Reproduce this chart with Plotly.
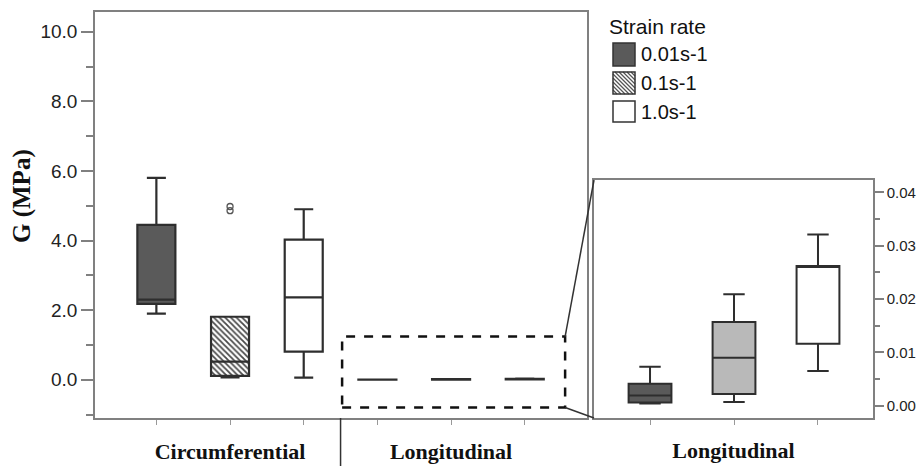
import plotly.graph_objects as go

W, H = 919, 466

# ---------------- data (G in MPa) ----------------
categories = ["Circumferential", "Longitudinal"]
series_names = ["0.01s-1", "0.1s-1", "1.0s-1"]

# values per series for [Circumferential, Longitudinal]
lower_001 = [1.90, 0.0004]
q1_001 = [2.18, 0.0006]
median_001 = [2.30, 0.0019]
q3_001 = [4.45, 0.0041]
upper_001 = [5.80, 0.0073]

lower_01 = [0.07, 0.0007]
q1_01 = [0.11, 0.0022]
median_01 = [0.52, 0.0090]
q3_01 = [1.81, 0.0157]
upper_01 = [1.81, 0.0209]
outliers_01_circ = [4.86, 4.98]

lower_10 = [0.06, 0.0065]
q1_10 = [0.81, 0.0116]
median_10 = [2.37, 0.0262]
q3_10 = [4.03, 0.0262]
upper_10 = [4.90, 0.0321]

main_yticks = [0, 2, 4, 6, 8, 10]
inset_yticks = [0.00, 0.01, 0.02, 0.03, 0.04]

stats = [
    dict(lo=lower_001, q1=q1_001, med=median_001, q3=q3_001, hi=upper_001),
    dict(lo=lower_01, q1=q1_01, med=median_01, q3=q3_01, hi=upper_01),
    dict(lo=lower_10, q1=q1_10, med=median_10, q3=q3_10, hi=upper_10),
]

# ---------------- styles ----------------
LINE = "#2e2e2e"
AX = "#808080"
main_fills = ["#5a5a5a", "rgba(0,0,0,0)", "#ffffff"]
inset_fills = ["#5a5a5a", "#b9b9b9", "#ffffff"]
BOXGAP, BOXGROUPGAP = 0.0, 0.484
BOXW = (1 - BOXGAP) * (1 - BOXGROUPGAP) / 3
SANS = "Liberation Sans"
SERIF = "Liberation Serif"

# domains (pixel -> paper, margins are zero)
mx0, mx1 = 95 / W, 587 / W
my0, my1 = 1 - 418 / H, 1 - 12 / H
ix0, ix1 = 594 / W, 873 / W
iy0, iy1 = 1 - 418 / H, 1 - 180 / H
mxr = [-0.611, 1.615]
myr = [-1.1, 10.57]

fig = go.Figure()

# hatch fill under the 0.1 s-1 circumferential box
fig.add_trace(go.Bar(
    x=[categories[0]], y=[q3_01[0] - q1_01[0]], base=[q1_01[0]], width=BOXW,
    marker=dict(color="white", line=dict(width=0),
                pattern=dict(shape="\\", fgcolor="#4a4a4a", bgcolor="white",
                             size=4, solidity=0.45, fillmode="replace")),
    showlegend=False, hoverinfo="skip", xaxis="x", yaxis="y"))

for i, (name, s) in enumerate(zip(series_names, stats)):
    fig.add_trace(go.Box(
        x=categories, q1=s["q1"], median=s["med"], q3=s["q3"],
        lowerfence=s["lo"], upperfence=s["hi"], name=name,
        fillcolor=main_fills[i], line=dict(color=LINE, width=2.2),
        whiskerwidth=0.5, boxpoints=False, offsetgroup=str(i),
        alignmentgroup="main", showlegend=False, xaxis="x", yaxis="y"))

fig.add_trace(go.Scatter(
    x=[categories[0]] * len(outliers_01_circ), y=outliers_01_circ, mode="markers",
    marker=dict(symbol="circle-open", size=6, color="#555555", line=dict(width=1.3)),
    showlegend=False, xaxis="x", yaxis="y"))

# inset: longitudinal only
for i, (name, s) in enumerate(zip(series_names, stats)):
    fig.add_trace(go.Box(
        x=[name], q1=[s["q1"][1]], median=[s["med"][1]], q3=[s["q3"][1]],
        lowerfence=[s["lo"][1]], upperfence=[s["hi"][1]], name=name,
        fillcolor=inset_fills[i], line=dict(color=LINE, width=2),
        whiskerwidth=0.5, boxpoints=False, width=0.51,
        showlegend=False, xaxis="x2", yaxis="y2"))

# ---------------- shapes ----------------
def to_px(xv, yv):
    px = mx0 + (xv - mxr[0]) / (mxr[1] - mxr[0]) * (mx1 - mx0)
    py = my0 + (yv - myr[0]) / (myr[1] - myr[0]) * (my1 - my0)
    return px, py

rect = dict(x0=0.507, x1=1.516, y0=-0.80, y1=1.24)
shapes = [
    dict(type="rect", xref="x", yref="y", x0=rect["x0"], x1=rect["x1"],
         y0=rect["y0"], y1=rect["y1"], line=dict(color="#111111", width=2.5, dash="dash")),
]
tr = to_px(rect["x1"], rect["y1"])
br = to_px(rect["x1"], rect["y0"])
shapes.append(dict(type="line", xref="paper", yref="paper", x0=tr[0], y0=tr[1],
                   x1=ix0, y1=iy1, line=dict(color="#333333", width=1.5)))
shapes.append(dict(type="line", xref="paper", yref="paper", x0=br[0], y0=br[1],
                   x1=ix0, y1=iy0, line=dict(color="#333333", width=1.5)))
# separator between categories
shapes.append(dict(type="line", xref="x", yref="paper", x0=0.5, x1=0.5, y0=0, y1=my0,
                   line=dict(color="#333333", width=1.5)))

# legend swatches (pixel boxes)
sw = [(613, 43, 635, 66), (613, 72, 635, 94), (613, 101, 635, 122)]
sw_fill = ["#5a5a5a", "white", "white"]
for k, (a, b, c, d) in enumerate(sw):
    if k == 1:
        w, h = c - a, d - b
        cc = -h
        while cc < w:
            u0, u1 = max(0, cc), min(w, h + cc)
            if u1 > u0:
                xa, ya = a + u0, b + u0 - cc
                xb, yb = a + u1, b + u1 - cc
                shapes.append(dict(type="line", xref="paper", yref="paper",
                                   x0=xa / W, y0=1 - ya / H, x1=xb / W, y1=1 - yb / H,
                                   line=dict(color="#555555", width=1.3)))
            cc += 4
    shapes.append(dict(type="rect", xref="paper", yref="paper", x0=a / W, x1=c / W,
                       y0=1 - d / H, y1=1 - b / H, fillcolor=sw_fill[k] if k != 1 else None,
                       line=dict(color="#333333", width=1.5),
                       layer="above" if k == 1 else "below"))

annotations = [
    dict(text="Strain rate", x=607 / W, y=1 - 27 / H, xref="paper", yref="paper",
         xanchor="left", yanchor="middle", showarrow=False,
         font=dict(family=SANS, size=21, color="#111111")),
    dict(text="<b>G (MPa)</b>", x=22 / W, y=1 - 196 / H, xref="paper", yref="paper",
         textangle=-90, xanchor="center", yanchor="middle", showarrow=False,
         font=dict(family=SERIF, size=25, color="#111111")),
]
for k, name in enumerate(series_names):
    yc = (sw[k][1] + sw[k][3]) / 2
    annotations.append(dict(text=name, x=639 / W, y=1 - yc / H, xref="paper", yref="paper",
                            xanchor="left", yanchor="middle", showarrow=False,
                            font=dict(family=SANS, size=20, color="#111111")))

fig.update_layout(
    width=W, height=H, margin=dict(l=0, r=0, t=0, b=0),
    paper_bgcolor="white", plot_bgcolor="white", showlegend=False,
    boxmode="group", boxgap=BOXGAP, boxgroupgap=BOXGROUPGAP,
    shapes=shapes, annotations=annotations,
    xaxis=dict(domain=[mx0, mx1], anchor="y", type="category", categoryorder="array",
               categoryarray=categories, range=mxr, tickmode="array",
               tickvals=[-1 / 3, 0, 1 / 3, 2 / 3, 1, 4 / 3],
               ticktext=["", categories[0], "", "", categories[1], ""],
               ticks="outside", ticklen=5, tickcolor="#999999", tickwidth=1,
               ticklabelstandoff=8,
               tickfont=dict(family=SERIF, size=22, color="#111111", weight="bold"),
               showline=True, linecolor=AX, linewidth=1.5, mirror=True,
               showgrid=False, zeroline=False),
    yaxis=dict(domain=[my0, my1], anchor="x", range=myr, tickmode="array",
               tickvals=main_yticks, tickformat=".1f", ticks="outside", ticklen=12,
               tickcolor=AX, tickwidth=1.5,
               minor=dict(dtick=1, tick0=0, ticks="outside", ticklen=7, tickcolor=AX,
                          tickwidth=1.5, showgrid=False),
               tickfont=dict(family=SANS, size=19, color="#222222"),
               showline=True, linecolor=AX, linewidth=1.5, mirror=True,
               showgrid=False, zeroline=False),
    xaxis2=dict(domain=[ix0, ix1], anchor="y2", type="category", categoryorder="array",
                categoryarray=series_names, range=[-0.667, 2.655],
                ticks="outside", ticklen=5, tickcolor="#999999", showticklabels=False,
                title=dict(text="Longitudinal", standoff=19,
                           font=dict(family=SERIF, size=22, color="#111111", weight="bold")),
                showline=True, linecolor=AX, linewidth=1.5, mirror=True,
                showgrid=False, zeroline=False),
    yaxis2=dict(domain=[iy0, iy1], anchor="x2", side="right", range=[-0.0023, 0.0423],
                tickmode="array", tickvals=inset_yticks, tickformat=".2f",
                ticks="outside", ticklen=9, tickcolor=AX, tickwidth=1.5,
                minor=dict(dtick=0.005, tick0=0, ticks="outside", ticklen=5,
                           tickcolor=AX, tickwidth=1.5, showgrid=False),
                tickfont=dict(family=SANS, size=15, color="#222222"),
                showline=True, linecolor=AX, linewidth=1.5, mirror=True,
                showgrid=False, zeroline=False),
)

fig.write_html("out.html")
